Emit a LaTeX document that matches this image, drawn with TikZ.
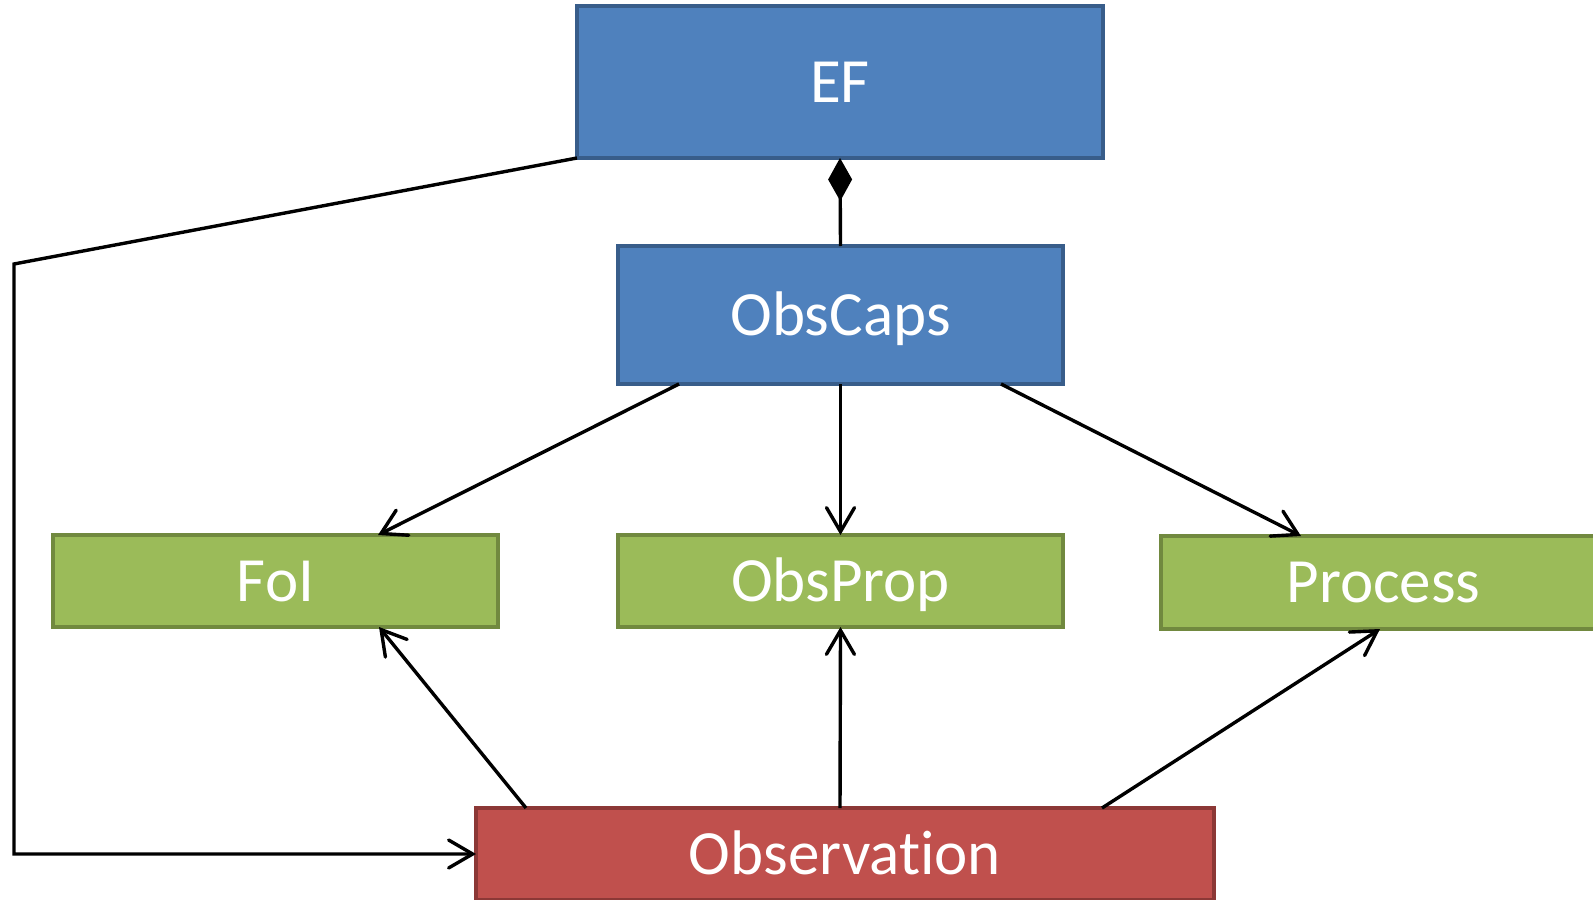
\documentclass[tikz,border=0pt]{standalone}
\usepackage{fontspec}
\setmainfont[Ligatures=NoCommon]{Carlito}
\usetikzlibrary{arrows.meta}
\definecolor{bluefill}{HTML}{4F81BD}
\definecolor{blueline}{HTML}{385D8A}
\definecolor{greenfill}{HTML}{9BBB59}
\definecolor{greenline}{HTML}{71893F}
\definecolor{redfill}{HTML}{C0504D}
\definecolor{redline}{HTML}{8C3836}
\tikzset{
  box/.style={draw, line width=1.6pt, inner sep=0pt, outer sep=0pt, text=white,
    font=\fontsize{31.5}{38}\selectfont, text height=20.3pt, text depth=0pt},
  bluebox/.style={box, fill=bluefill, draw=blueline},
  greenbox/.style={box, fill=greenfill, draw=greenline},
  redbox/.style={box, fill=redfill, draw=redline},
  tipstyle/.style={-{Straight Barb[length=12pt,width=14pt,line cap=round]}},
  conn/.style={line width=1.7pt, black, tipstyle},
  comp/.style={line width=1.7pt, black, -{Diamond[length=21.5pt,width=12pt]}},
}
\begin{document}
\begin{tikzpicture}[x=0.5pt,y=-0.5pt]
\useasboundingbox (0,0) rectangle (1593,899);
\clip (0,0) rectangle (1593,899);
\node[bluebox, minimum width=263pt, minimum height=76pt] (EF) at (840,82) {EF};
\node[bluebox, minimum width=222.5pt, minimum height=69pt] (ObsCaps) at (840.5,315) {ObsCaps};
\node[greenbox, minimum width=222.5pt, minimum height=46pt] (FoI) at (275.5,581) {FoI};
\node[greenbox, minimum width=222.5pt, minimum height=46pt] (ObsProp) at (840.5,581) {ObsProp};
\node[greenbox, minimum width=222.5pt, minimum height=46.5pt] (Process) at (1383.5,582.5) {Process};
\node[redbox, minimum width=369pt, minimum height=46pt] (Observation) at (845,854) {Observation};
\coordinate (k1) at (14,264);
% composition
\draw[comp] (ObsCaps.north) -- (EF.south);
% EF to Observation
\draw[conn] (EF.south west) -- (k1) |- (Observation.west);
% ObsCaps to targets
\draw[conn] ([xshift=30.5pt]ObsCaps.south west) -- ([xshift=162.5pt]FoI.north west);
\draw[conn] (ObsCaps.south) -- (ObsProp.north);
\draw[conn] ([xshift=-31pt]ObsCaps.south east) -- ([xshift=70pt]Process.north west);
% Observation to targets
\draw[conn] ([xshift=25pt]Observation.north west) -- ([xshift=163pt]FoI.south west);
\draw[conn] ([xshift=-2.5pt]Observation.north) -- (ObsProp.south);
\draw[conn] ([xshift=-56pt]Observation.north east) -- ([xshift=109.5pt]Process.south west);
\end{tikzpicture}
\end{document}
